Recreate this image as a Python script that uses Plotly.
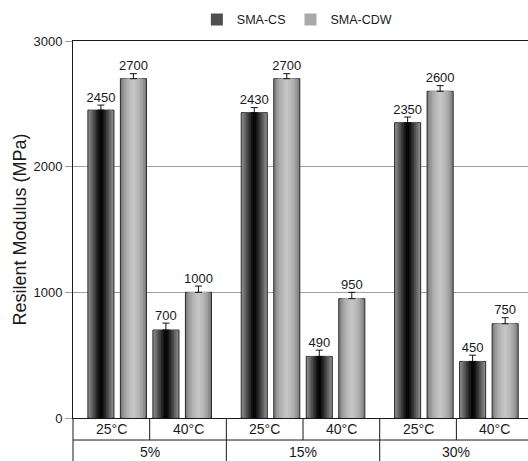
import plotly.graph_objects as go

# ---- data ----
concentrations = ["5%", "15%", "30%"]
temperatures = ["25°C", "40°C"]
series_names = ["SMA-CS", "SMA-CDW"]
cs_values = {"25°C": [2450, 2430, 2350], "40°C": [700, 490, 450]}
cdw_values = {"25°C": [2700, 2700, 2600], "40°C": [1000, 950, 750]}
cs_errors = {"25°C": [40, 40, 45], "40°C": [55, 50, 50]}
cdw_errors = {"25°C": [40, 40, 45], "40°C": [50, 50, 48]}
y_ticks = [0, 1000, 2000, 3000]

# ---- layout constants (styling only) ----
FONT = "Liberation Sans, Arial, sans-serif"
pitch = 0.424      # distance between bar centres, in temperature-cell units
bar_w = 0.34
x_max = 5.934      # visible part of the axis (chart is cropped on the right)

# gradient layers, outer -> inner
cs_layers = ["#8a8a8a", "#777777", "#636363", "#4f4f4f", "#3b3b3b", "#282828", "#161616", "#070707"]
cdw_layers = ["#7e7e7e", "#8f8f8f", "#9d9d9d", "#a9a9a9", "#b2b2b2", "#b9b9b9", "#bfbfbf", "#c4c4c4"]

series = [
    (series_names[0], cs_values, cs_errors, cs_layers),
    (series_names[1], cdw_values, cdw_errors, cdw_layers),
]

fig = go.Figure()

for s_idx, (name, vals, errs, layers) in enumerate(series):
    xs, ys, es = [], [], []
    for g, conc in enumerate(concentrations):
        for t, temp in enumerate(temperatures):
            k = 2 * t + s_idx
            xs.append(2 * g + 1 + (k - 1.5) * pitch)
            ys.append(vals[temp][g])
            es.append(errs[temp][g])
    n = len(layers)
    for i, col in enumerate(layers):
        w = bar_w * (1 - i / n)
        last = i == n - 1
        fig.add_trace(go.Bar(
            x=xs, y=ys, width=w, name=name,
            marker=dict(color=col,
                        line=dict(color="#2a2a2a", width=1 if i == 0 else 0)),
            showlegend=(i == 3),
            legendgroup=name,
            error_y=dict(type="data", array=es, arrayminus=[0] * len(es),
                         symmetric=False, color="#111111", thickness=1, width=3.5,
                         visible=last),
            hoverinfo="skip" if not last else None,
        ))
    fig.add_trace(go.Scatter(
        x=xs, y=[y + e for y, e in zip(ys, es)], mode="text",
        text=[str(v) for v in ys], textposition="top center",
        textfont=dict(family=FONT, size=13, color="#1a1a1a"),
        showlegend=False, hoverinfo="skip", cliponaxis=False,
    ))

# ---- category table under the plot ----
def to_paper(xv):
    return xv / x_max

row1 = -0.0584
row_bottom = -0.14
line_style = dict(color="#1a1a1a", width=1)
shapes = [dict(type="line", xref="paper", yref="paper", x0=0, x1=1, y0=row1, y1=row1,
               line=line_style, layer="above")]
annotations = []
for g, conc in enumerate(concentrations):
    shapes.append(dict(type="line", xref="paper", yref="paper",
                       x0=to_paper(2 * g), x1=to_paper(2 * g),
                       y0=0, y1=row_bottom, line=line_style, layer="above"))
    shapes.append(dict(type="line", xref="paper", yref="paper",
                       x0=to_paper(2 * g + 1), x1=to_paper(2 * g + 1),
                       y0=0, y1=row1, line=line_style, layer="above"))
    annotations.append(dict(x=2 * g + 1, y=-0.090, xref="x", yref="paper", text=conc,
                            xanchor="center", yanchor="middle", showarrow=False,
                            font=dict(family=FONT, size=14, color="#1a1a1a")))
    for t, temp in enumerate(temperatures):
        annotations.append(dict(x=2 * g + t + 0.5, y=-0.0295, xref="x", yref="paper",
                                text=temp, xanchor="center", yanchor="middle",
                                showarrow=False,
                                font=dict(family=FONT, size=14, color="#1a1a1a")))

fig.update_layout(
    width=528, height=461,
    margin=dict(l=73, r=0, t=41, b=43, autoexpand=False),
    barmode="overlay",
    plot_bgcolor="white", paper_bgcolor="white",
    font=dict(family=FONT, size=13, color="#1a1a1a"),
    shapes=shapes, annotations=annotations,
    legend=dict(orientation="h", x=0.492, xanchor="center", y=1.056, yanchor="middle",
                font=dict(family=FONT, size=12.5, color="#1a1a1a"),
                bgcolor="rgba(0,0,0,0)", itemwidth=30),
    xaxis=dict(range=[0, x_max], showticklabels=False, ticks="", showgrid=False,
               zeroline=False, showline=True, linecolor="#1a1a1a", linewidth=1,
               mirror=True, fixedrange=True),
    yaxis=dict(range=[0, 3000], tickvals=y_ticks, ticks="outside", ticklen=7,
               tickcolor="#a0a0a0", showgrid=True, gridcolor="#a0a0a0", gridwidth=1,
               zeroline=False, showline=True, linecolor="#1a1a1a", linewidth=1,
               automargin=False,
               tickfont=dict(family=FONT, size=13, color="#1a1a1a"),
               title=dict(text="Resilent Modulus (MPa)", standoff=2,
                          font=dict(family=FONT, size=18, color="#1a1a1a"))),
)

fig.write_html(
    "out.html",
    config={"displayModeBar": False},
    post_script="document.body.style.margin='0';document.body.style.overflow='hidden';",
)
